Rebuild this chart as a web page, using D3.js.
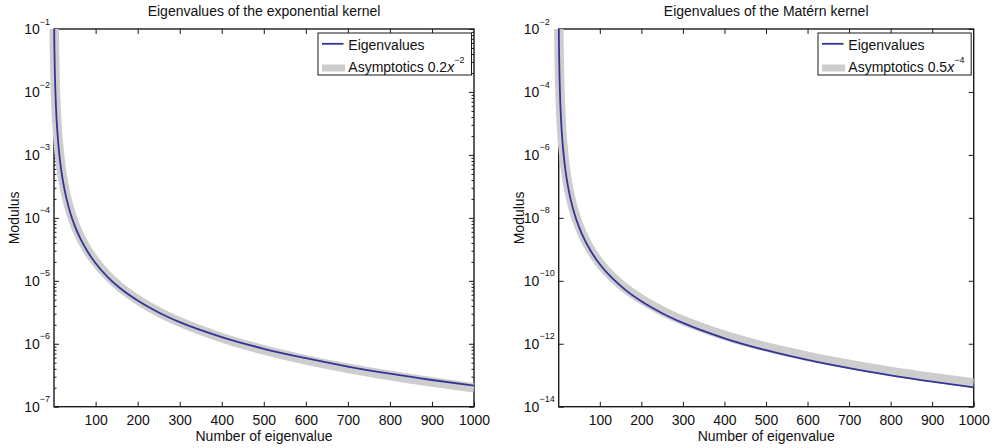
<!DOCTYPE html>
<html>
<head>
<meta charset="utf-8">
<script src="https://cdn.jsdelivr.net/npm/d3@7"></script>
<style>
  html, body { margin: 0; padding: 0; background: #fff; }
  svg { display: block; font-family: "Liberation Sans", Arial, Helvetica, sans-serif; }
</style>
</head>
<body>
<svg id="chart" width="998" height="448"></svg>
<script>
// ---------------- data ----------------
const eigenNumbers = [1, 2, 3, 4, 5, 6, 8, 10, 13, 16, 20, 25, 30, 40, 50, 65, 80, 100,
  130, 160, 200, 250, 300, 400, 500, 600, 700, 800, 900, 1000];

// Exponential kernel: computed eigenvalues
const expEigenvalues = [0.19, 0.0475, 0.02111, 0.011875, 0.0076, 0.005278, 0.002969, 0.0019,
  0.001124, 0.000742, 0.000475, 0.000304, 0.0002111, 0.00011875, 0.000076, 0.00004497,
  0.00002969, 0.000019, 0.00001124, 0.00000746, 0.00000485, 0.000003136, 0.0000022,
  0.000001275, 0.000000832, 0.000000589, 0.0000004347, 0.0000003344, 0.0000002654, 0.000000216];
// Exponential kernel: asymptotics 0.2 x^-2
const expAsymptotics = [0.2, 0.05, 0.02222, 0.0125, 0.008, 0.005556, 0.003125, 0.002,
  0.001183, 0.000781, 0.0005, 0.00032, 0.0002222, 0.000125, 0.00008, 0.0000473,
  0.00003125, 0.00002, 0.00001183, 0.00000781, 0.000005, 0.0000032, 0.000002222,
  0.00000125, 0.0000008, 0.0000005556, 0.0000004082, 0.0000003125, 0.0000002469, 0.0000002];

// Matérn kernel: computed eigenvalues
const maternEigenvalues = [0.0222, 1.48e-3, 3.03e-4, 9.84e-5, 4.11e-5, 2.01e-5, 6.55e-6, 2.74e-6,
  9.79e-7, 4.36e-7, 1.82e-7, 7.60e-8, 3.72e-8, 1.21e-8, 5.06e-9, 1.81e-9, 8.05e-10, 3.36e-10,
  1.21e-10, 5.36e-11, 2.24e-11, 9.35e-12, 4.58e-12, 1.49e-12, 6.22e-13, 3.05e-13, 1.67e-13,
  9.91e-14, 6.25e-14, 4.14e-14];
// Matérn kernel: asymptotics 0.5 x^-4
const maternAsymptotics = [0.024, 1.6e-3, 3.27e-4, 1.063e-4, 4.44e-5, 2.17e-5, 7.07e-6, 2.96e-6,
  1.057e-6, 4.71e-7, 1.966e-7, 8.21e-8, 4.02e-8, 1.307e-8, 5.46e-9, 1.955e-9, 8.69e-10, 3.63e-10,
  1.33e-10, 6.0e-11, 2.58e-11, 1.103e-11, 5.5e-12, 1.848e-12, 7.9e-13, 3.97e-13, 2.2e-13,
  1.328e-13, 8.5e-14, 5.67e-14];

const xTickValues = [100, 200, 300, 400, 500, 600, 700, 800, 900, 1000];
const expYExponents = [-7, -6, -5, -4, -3, -2, -1];
const maternYExponents = [-14, -12, -10, -8, -6, -4, -2];

const titles = ["Eigenvalues of the exponential kernel", "Eigenvalues of the Matérn kernel"];
const xLabel = "Number of eigenvalue";
const yLabel = "Modulus";
const legendEigen = "Eigenvalues";
const legendAsymBase = ["Asymptotics 0.2", "Asymptotics 0.5"];
const legendAsymExp = ["−2", "−4"];

// ---------------- layout ----------------
const svg = d3.select("#chart");
const FONT = 14, SUP = 9;
const BLUE = "#343497", GRAY = "#cdcdcd", AXIS = "#1a1a1a";

const panels = [
  { x0: 54, x1: 474, eig: expEigenvalues, asym: expAsymptotics, exps: expYExponents,
    minor: true, title: titles[0], lb: legendAsymBase[0], le: legendAsymExp[0], legX: 318 },
  { x0: 558.7, x1: 973.7, eig: maternEigenvalues, asym: maternAsymptotics, exps: maternYExponents,
    minor: false, title: titles[1], lb: legendAsymBase[1], le: legendAsymExp[1], legX: 818 }
];
const Y0 = 29, Y1 = 406.7;

panels.forEach((p, i) => {
  const x = d3.scaleLinear().domain([1, 1000]).range([p.x0, p.x1]);
  const yMin = Math.pow(10, d3.min(p.exps)), yMax = Math.pow(10, d3.max(p.exps));
  const y = d3.scaleLog().domain([yMin, yMax]).range([Y1, Y0]);
  const g = svg.append("g");

  // axes box
  g.append("rect").attr("x", p.x0).attr("y", Y0).attr("width", p.x1 - p.x0).attr("height", Y1 - Y0)
    .attr("fill", "#fff").attr("stroke", AXIS).attr("stroke-width", 1.4);

  const majors = p.exps.map(e => Math.pow(10, e));
  let minors = [];
  if (p.minor) {
    for (let e = d3.min(p.exps); e < d3.max(p.exps); e++)
      for (let m = 2; m <= 9; m++) minors.push(m * Math.pow(10, e));
  }

  const styleAxis = sel => {
    sel.select(".domain").remove();
    sel.selectAll(".tick line").attr("stroke", AXIS).attr("stroke-width", 1);
  };

  // bottom axis
  g.append("g").attr("transform", `translate(0,${Y1})`)
    .call(d3.axisBottom(x).tickValues(xTickValues).tickSize(-5).tickPadding(8.4).tickFormat(d3.format("d")))
    .call(styleAxis)
    .call(s => s.selectAll("text").attr("font-size", FONT).attr("fill", "#111")
      .attr("font-family", '"Liberation Sans", Arial, sans-serif'));
  // top axis
  g.append("g").attr("transform", `translate(0,${Y0})`)
    .call(d3.axisTop(x).tickValues(xTickValues.filter(v => v < 1000)).tickSize(-5).tickFormat(""))
    .call(styleAxis);
  // left/right major
  g.append("g").attr("transform", `translate(${p.x0},0)`)
    .call(d3.axisLeft(y).tickValues(majors).tickSize(-5).tickFormat(""))
    .call(styleAxis);
  g.append("g").attr("transform", `translate(${p.x1},0)`)
    .call(d3.axisRight(y).tickValues(majors).tickSize(-5).tickFormat(""))
    .call(styleAxis);
  if (minors.length) {
    g.append("g").attr("transform", `translate(${p.x0},0)`)
      .call(d3.axisLeft(y).tickValues(minors).tickSize(-2.5).tickFormat(""))
      .call(styleAxis);
    g.append("g").attr("transform", `translate(${p.x1},0)`)
      .call(d3.axisRight(y).tickValues(minors).tickSize(-2.5).tickFormat(""))
      .call(styleAxis);
  }

  // y tick labels: 10^e
  const labs = g.append("g");
  const texts = p.exps.map(e => {
    const t = labs.append("text").attr("font-size", FONT).attr("fill", "#111")
      .attr("y", y(Math.pow(10, e))).attr("dy", "0.36em");
    t.append("tspan").text("10");
    t.append("tspan").attr("font-size", SUP).attr("dy", "-1.05em").text("−" + Math.abs(e));
    return t;
  });
  const maxW = d3.max(texts, t => t.node().getComputedTextLength());
  texts.forEach(t => t.attr("x", p.x0 - 4 - maxW));

  // title and labels
  const cx = (p.x0 + p.x1) / 2;
  g.append("text").attr("x", cx).attr("y", 16).attr("text-anchor", "middle")
    .attr("font-size", FONT).attr("fill", "#111").text(p.title);
  g.append("text").attr("x", cx).attr("y", 441).attr("text-anchor", "middle")
    .attr("font-size", FONT).attr("fill", "#111").text(xLabel);
  g.append("text").attr("transform", `translate(${p.x0 - 35},${(Y0 + Y1) / 2}) rotate(-90)`)
    .attr("text-anchor", "middle").attr("font-size", FONT).attr("fill", "#111").text(yLabel);

  // curves
  const clipId = "clip" + i;
  svg.append("clipPath").attr("id", clipId).append("rect")
    .attr("x", p.x0 - 8).attr("y", Y0).attr("width", p.x1 - p.x0 + 8).attr("height", Y1 - Y0);
  const line = d3.line().x(d => x(d[0])).y(d => y(d[1])).curve(d3.curveMonotoneX);
  const cg = g.append("g").attr("clip-path", `url(#${clipId})`);
  cg.append("path").datum(eigenNumbers.map((k, j) => [k, p.asym[j]]))
    .attr("d", line).attr("fill", "none").attr("stroke", GRAY).attr("stroke-width", 9.5);
  cg.append("path").datum(eigenNumbers.map((k, j) => [k, p.eig[j]]))
    .attr("d", line).attr("fill", "none").attr("stroke", BLUE).attr("stroke-width", 1.8);

  // legend
  const lg = g.append("g");
  const lx = p.legX, lw = p.x1 - 2.5 - p.legX;
  lg.append("rect").attr("x", lx).attr("y", 33).attr("width", lw).attr("height", 42)
    .attr("fill", "#fff").attr("stroke", AXIS).attr("stroke-width", 1);
  lg.append("line").attr("x1", lx + 4).attr("x2", lx + 25.5).attr("y1", 43.8).attr("y2", 43.8)
    .attr("stroke", BLUE).attr("stroke-width", 1.8);
  lg.append("text").attr("x", lx + 30.3).attr("y", 49.8).attr("font-size", FONT).attr("fill", "#111")
    .text(legendEigen);
  lg.append("line").attr("x1", lx + 4).attr("x2", lx + 27).attr("y1", 68).attr("y2", 68)
    .attr("stroke", GRAY).attr("stroke-width", 7);
  const at = lg.append("text").attr("x", lx + 30.3).attr("y", 72.3).attr("font-size", FONT).attr("fill", "#111");
  at.append("tspan").text(p.lb);
  at.append("tspan").attr("font-style", "italic").text("x");
  at.append("tspan").attr("font-size", SUP).attr("dy", "-1.05em").text(p.le);
});
</script>
</body>
</html>
